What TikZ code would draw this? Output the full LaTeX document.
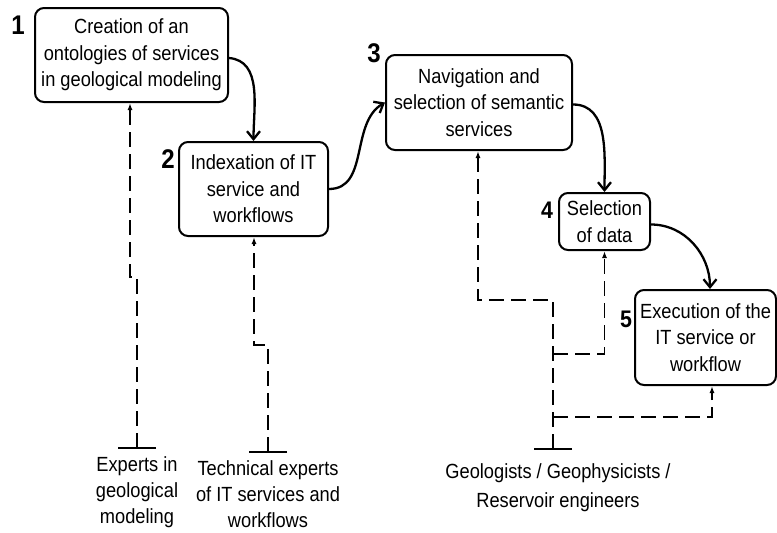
\documentclass[tikz,border=0pt]{standalone}
\usepackage{fontspec}
\setmainfont{Liberation Sans}[FakeStretch=0.89]
\usetikzlibrary{arrows.meta,positioning}

\tikzset{
	stepbox/.style={draw, line width=2pt, rounded corners=9pt, align=center, inner sep=0pt, font=\fontsize{20.5}{26.5}\selectfont},
	who/.style={align=center, inner sep=0pt, inner ysep=7pt, anchor=north, font=\fontsize{20.5}{26}\selectfont},
	num/.style={inner sep=0pt, font=\fontsize{27}{27}\selectfont\bfseries},
	flow/.style={line width=2.3pt, -{Straight Barb[length=8pt,width=13pt]}},
	dep/.style={line width=1.8pt, dash pattern=on 15pt off 7pt, -{Latex[length=7pt,width=5pt]}},
	src/.style={dep, {Bar[width=38pt]}-{Latex[length=7pt,width=5pt]}}
}

\begin{document}
\begin{tikzpicture}[x=1pt, y=1pt]
	\useasboundingbox (0,0) rectangle (777,-533);

	% steps
	\node[stepbox, minimum width=193, minimum height=94] (create) at (131.5,-55) {Creation of an\\ontologies of services\\in geological modeling};
	\node[stepbox, minimum width=149, minimum height=94] (index) at (253.5,-189) {Indexation of IT\\service and\\workflows};
	\node[stepbox, minimum width=186, minimum height=95] (nav) at (479,-102.5) {Navigation and\\selection of semantic\\services};
	\node[stepbox, minimum width=91, minimum height=57] (sel) at (604.5,-221.5) {Selection\\of data};
	\node[stepbox, minimum width=141, minimum height=95] (exec) at (705.5,-337.5) {Execution of the\\IT service or\\workflow};

	\node[num] (n1) at (18,-25) {1};
	\node[num] (n2) at (168,-159) {2};
	\node[num] (n3) at (374,-53) {3};
	\node[num, font=\fontsize{24}{24}\selectfont\bfseries] (n4) at (547,-210) {4};
	\node[num, font=\fontsize{24}{24}\selectfont\bfseries] (n5) at (626,-319) {5};

	% actors
	\node[who] (experts) at (137,-449) {Experts in\\geological\\modeling};
	\node[who] (tech) at (268,-453) {Technical experts\\of IT services and\\workflows};
	\node[who, inner ysep=13pt, font=\fontsize{20.5}{29}\selectfont] (geo) at (558,-450) {Geologists / Geophysicists /\\Reservoir engineers};

	\draw[flow] ([yshift=-3pt]create.east) to[out=-5, in=90] (index.north);
	\draw[flow] (index.east) to[out=0, in=-150] (nav.west);
	\draw[flow] ([yshift=-2pt]nav.east) to[out=0, in=90] (sel.north);
	\draw[flow] ([yshift=-3pt]sel.east) to[out=0, in=90] ([xshift=4.5pt]exec.north);

	\coordinate (jog1) at (130,-277);
	\coordinate (jog2) at (254,-345);
	\coordinate (jog3) at (478,-300);
	\coordinate (fork4) at (553,-354);
	\coordinate (fork5) at (553,-417);

	\draw[src] (experts.north) |- (jog1) -- (jog1 |- create.south);
	\draw[src] (tech.north) |- (jog2) -- (jog2 |- index.south);
	\draw[src] ([xshift=-5pt]geo.north) |- (jog3) -- (jog3 |- nav.south);
	\draw[dep] (fork4) -| (sel.south);
	\draw[dep] (fork5) -| ([xshift=6.5pt]exec.south);
\end{tikzpicture}
\end{document}
